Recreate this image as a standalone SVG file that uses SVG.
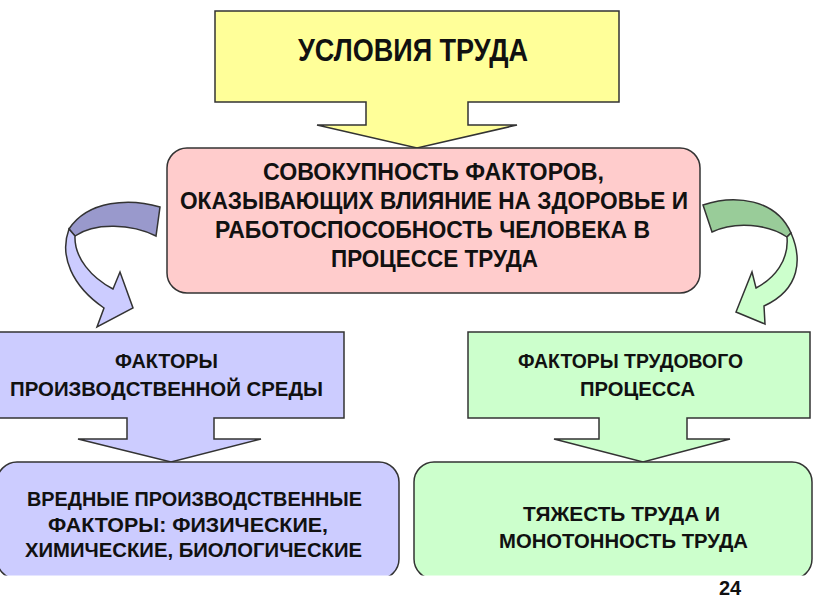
<svg xmlns="http://www.w3.org/2000/svg" width="816" height="613" viewBox="0 0 816 613">
<defs>
<style>
.sh{stroke:#333;stroke-width:1.5;stroke-linejoin:miter}
.t{font-family:"Liberation Sans",Arial,sans-serif;font-weight:bold;fill:#111;text-anchor:middle}
.y{fill:#ffff99}.p{fill:#ffcccc}.l{fill:#ccccff}.g{fill:#ccffcc}.ld{fill:#9999cc}.gd{fill:#99cc99}
</style>
<clipPath id="bc"><rect x="-10" y="0" width="840" height="575.5"/></clipPath>
</defs>
<rect width="816" height="613" fill="#fff"/>
<g id="connectors">
<g id="arrow-left">
<path class="sh ld" d="M160,207 C130,198 88,200 69,229 L75,236 C95,222 132,224 156,236 Z"/>
<path class="sh l" d="M69,229 C59,256 72,286 104,308 L97,327 L133,308 L120,272 L113,289 C92,278 74,258 75,236 Z"/>
</g>
<g id="arrow-right">
<path class="sh gd" d="M703,205 C735,194 776,199 791,233 L787,237 C768,224 735,221 712,232 Z"/>
<path class="sh g" d="M791,233 C802,258 801,289 764,306 L765,324 L736,312 L752,272 L756,288 C775,278 789,260 787,237 Z"/>
</g>
</g>
<g id="node-conditions">
<path class="sh y" d="M215,11 H619 V102 H468 V125 H517 L417,148 L317,125 H366 V102 H215 Z"/>
<text class="t" x="413" y="60.5" font-size="31" textLength="230" lengthAdjust="spacingAndGlyphs">УСЛОВИЯ ТРУДА</text>
</g>
<g id="node-definition">
<rect class="sh p" x="167" y="148" width="533" height="145" rx="20"/>
<text class="t" font-size="23"><tspan x="433.5" y="179.5" textLength="341" lengthAdjust="spacingAndGlyphs">СОВОКУПНОСТЬ ФАКТОРОВ,</tspan></text>
<text class="t" font-size="23"><tspan x="434" y="209" textLength="508" lengthAdjust="spacingAndGlyphs">ОКАЗЫВАЮЩИХ ВЛИЯНИЕ НА ЗДОРОВЬЕ И</tspan></text>
<text class="t" font-size="23"><tspan x="432.5" y="238" textLength="435" lengthAdjust="spacingAndGlyphs">РАБОТОСПОСОБНОСТЬ ЧЕЛОВЕКА В</tspan></text>
<text class="t" font-size="23"><tspan x="434.5" y="266.5" textLength="207" lengthAdjust="spacingAndGlyphs">ПРОЦЕССЕ ТРУДА</tspan></text>
</g>
<g id="node-environment">
<path class="sh l" d="M-2,332 H344 V418 H214 V439 H261 L171,462 L78,439 H127 V418 H-2 Z"/>
<text class="t" font-size="21"><tspan x="166.5" y="367.5" textLength="103" lengthAdjust="spacingAndGlyphs">ФАКТОРЫ</tspan></text>
<text class="t" font-size="21"><tspan x="166.5" y="395.5" textLength="313" lengthAdjust="spacingAndGlyphs">ПРОИЗВОДСТВЕННОЙ СРЕДЫ</tspan></text>
</g>
<g id="node-process">
<path class="sh g" d="M468,332 H810 V418 H687 V439 H730 L643,462 L554,439 H599 V418 H468 Z"/>
<text class="t" font-size="21"><tspan x="630.5" y="367.5" textLength="225" lengthAdjust="spacingAndGlyphs">ФАКТОРЫ ТРУДОВОГО</tspan></text>
<text class="t" font-size="21"><tspan x="637.5" y="395.5" textLength="115" lengthAdjust="spacingAndGlyphs">ПРОЦЕССА</tspan></text>
</g>
<g id="node-harmful" clip-path="url(#bc)">
<rect class="sh l" x="-3" y="462" width="402" height="117" rx="20"/>
<text class="t" font-size="21"><tspan x="194.5" y="506" textLength="335" lengthAdjust="spacingAndGlyphs">ВРЕДНЫЕ ПРОИЗВОДСТВЕННЫЕ</tspan></text>
<text class="t" font-size="21"><tspan x="188" y="532" textLength="280" lengthAdjust="spacingAndGlyphs">ФАКТОРЫ: ФИЗИЧЕСКИЕ,</tspan></text>
<text class="t" font-size="21"><tspan x="193.5" y="557" textLength="337" lengthAdjust="spacingAndGlyphs">ХИМИЧЕСКИЕ, БИОЛОГИЧЕСКИЕ</tspan></text>
</g>
<g id="node-severity" clip-path="url(#bc)">
<rect class="sh g" x="414" y="462" width="398" height="117" rx="20"/>
<text class="t" font-size="21"><tspan x="621.5" y="520.5" textLength="197" lengthAdjust="spacingAndGlyphs">ТЯЖЕСТЬ ТРУДА И</tspan></text>
<text class="t" font-size="21"><tspan x="623.5" y="547.5" textLength="249" lengthAdjust="spacingAndGlyphs">МОНОТОННОСТЬ ТРУДА</tspan></text>
</g>
<text class="t" x="730" y="594.5" font-size="20">24</text>
</svg>
